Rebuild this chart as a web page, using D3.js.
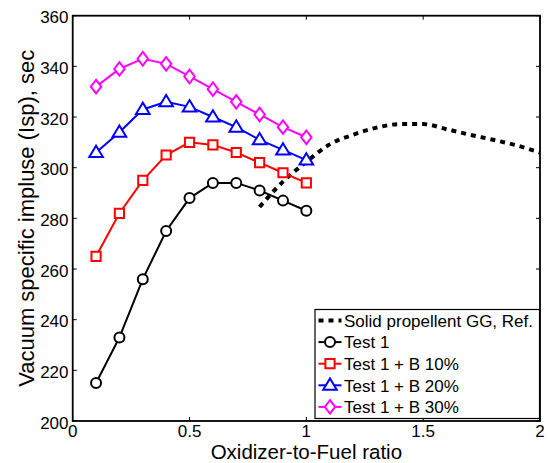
<!DOCTYPE html>
<html>
<head>
<meta charset="utf-8">
<script src="https://cdn.jsdelivr.net/npm/d3@7"></script>
<style>
  html, body { margin: 0; padding: 0; background: #fff; }
  svg { display: block; font-family: Arial, "Liberation Sans", sans-serif; }
</style>
</head>
<body>
<svg id="chart" width="548" height="463"></svg>
<script>
// Oxidizer-to-fuel ratio for the test series
const ofRatio = [0.1, 0.2, 0.3, 0.4, 0.5, 0.6, 0.7, 0.8, 0.9, 1.0];

// Vacuum specific impulse (sec) per test series
const test1    = [215, 233, 256, 275, 288, 294, 294, 291, 287, 283];
const testB10  = [265, 282, 295, 305, 310, 309, 306, 302, 298, 294];
const testB20  = [306, 314, 323, 326, 324, 320, 316, 311, 307, 303];
const testB30  = [332, 339, 343, 341, 336, 331, 326, 321, 316, 312];

// Solid propellant gas generator reference curve
const refRatio = [0.8, 0.9, 1.0, 1.1, 1.2, 1.3, 1.4, 1.5, 1.6, 1.7, 1.8, 1.9, 2.0];
const refIsp   = [284.5, 294.5, 302.3, 309.2, 313, 315.8, 317.2, 317.2, 315.2, 313, 311, 308.8, 306];

const xTicks = [0, 0.5, 1, 1.5, 2];
const yTicks = [200, 220, 240, 260, 280, 300, 320, 340, 360];

const legendLabels = ["Solid propellent GG, Ref.", "Test 1", "Test 1 + B 10%", "Test 1 + B 20%", "Test 1 + B 30%"];

const svg = d3.select("#chart");
const L = 72.7, R = 540, T = 15.7, B = 421;

const x = d3.scaleLinear().domain([0, 2]).range([L, R]);
const y = d3.scaleLinear().domain([200, 360]).range([B, T]);

// Frame ticks pointing inward on all four sides
const tickLen = 4;
const axisG = svg.append("g");
xTicks.forEach(t => {
  axisG.append("line").attr("x1", x(t)).attr("x2", x(t)).attr("y1", B).attr("y2", B - tickLen)
    .attr("stroke", "#000").attr("stroke-width", 1);
  axisG.append("line").attr("x1", x(t)).attr("x2", x(t)).attr("y1", T).attr("y2", T + tickLen)
    .attr("stroke", "#000").attr("stroke-width", 1);
});
yTicks.forEach(t => {
  axisG.append("line").attr("x1", L).attr("x2", L + tickLen).attr("y1", y(t)).attr("y2", y(t))
    .attr("stroke", "#000").attr("stroke-width", 1);
  axisG.append("line").attr("x1", R).attr("x2", R - tickLen).attr("y1", y(t)).attr("y2", y(t))
    .attr("stroke", "#000").attr("stroke-width", 1);
});

// Tick labels
svg.append("g").selectAll("text").data(xTicks).join("text")
  .attr("x", d => x(d)).attr("y", 436.5)
  .attr("text-anchor", "middle").attr("font-size", 17).attr("fill", "#000")
  .text(d => d3.format("~g")(d));
svg.append("g").selectAll("text").data(yTicks).join("text")
  .attr("x", 68.5).attr("y", d => y(d) + 7.5)
  .attr("text-anchor", "end").attr("font-size", 17).attr("fill", "#000")
  .text(d => d);

// Axis titles
svg.append("text")
  .attr("x", (L + R) / 2).attr("y", 458.6)
  .attr("text-anchor", "middle").attr("font-size", 20.5).attr("fill", "#000")
  .text("Oxidizer-to-Fuel ratio");
svg.append("text")
  .attr("transform", `translate(33.5, ${(T + B) / 2}) rotate(-90)`)
  .attr("text-anchor", "middle").attr("font-size", 22).attr("fill", "#000")
  .text("Vacuum specific impluse (Isp), sec");

const plot = svg.append("g");

// Reference curve (dotted)
const refLine = d3.line().x(d => x(d[0])).y(d => y(d[1])).curve(d3.curveMonotoneX);
plot.append("path")
  .datum(refRatio.map((r, i) => [r, refIsp[i]]))
  .attr("d", refLine)
  .attr("fill", "none").attr("stroke", "#000")
  .attr("stroke-width", 4).attr("stroke-dasharray", "5,5");

// Marker shapes
const markerPath = {
  circle:   d3.symbol().type(d3.symbolCircle).size(Math.PI * 25)(),
  square:   "M-4.6,-4.6H4.6V4.6H-4.6Z",
  triangle: "M0,-6.8L6.8,4.5H-6.8Z",
  diamond:  "M0,-6.8L5.2,0L0,6.8L-5.2,0Z"
};

const series = [
  { vals: test1,   color: "#000000", marker: "circle" },
  { vals: testB10, color: "#ff0000", marker: "square" },
  { vals: testB20, color: "#0000ff", marker: "triangle" },
  { vals: testB30, color: "#ff00ff", marker: "diamond" }
];

const line = d3.line().x(d => x(d[0])).y(d => y(d[1]));
series.forEach(s => {
  const pts = ofRatio.map((r, i) => [r, s.vals[i]]);
  plot.append("path").datum(pts).attr("d", line)
    .attr("fill", "none").attr("stroke", s.color).attr("stroke-width", 2);
  plot.append("g").selectAll("path").data(pts).join("path")
    .attr("transform", d => `translate(${x(d[0])},${y(d[1])})`)
    .attr("d", markerPath[s.marker])
    .attr("fill", "#fff").attr("stroke", s.color).attr("stroke-width", 2);
});

// Axes frame
svg.append("rect")
  .attr("x", L).attr("y", T).attr("width", R - L).attr("height", B - T)
  .attr("fill", "none").attr("stroke", "#000").attr("stroke-width", 1.8);

// Legend
const lg = svg.append("g");
const lgX = 315, lgY = 309.5, lgW = 224.5, lgH = 109;
lg.append("rect").attr("x", lgX).attr("y", lgY).attr("width", lgW).attr("height", lgH)
  .attr("fill", "#fff").attr("stroke", "#000").attr("stroke-width", 1.2);

const legendItems = [
  { color: "#000000", marker: null, dashed: true },
  ...series
];
legendItems.forEach((it, i) => {
  const cy = 320.5 + i * 21.6;
  const g = lg.append("g");
  g.append("line").attr("x1", 318.5).attr("x2", 341.5).attr("y1", cy).attr("y2", cy)
    .attr("stroke", it.color)
    .attr("stroke-width", it.dashed ? 4 : 2)
    .attr("stroke-dasharray", it.dashed ? "5,5" : null);
  if (it.marker) {
    g.append("path").attr("transform", `translate(330,${cy})`)
      .attr("d", markerPath[it.marker])
      .attr("fill", "#fff").attr("stroke", it.color).attr("stroke-width", 2);
  }
  g.append("text").attr("x", 344).attr("y", cy + 6.2)
    .attr("font-size", 17).attr("fill", "#000")
    .text(legendLabels[i]);
});
</script>
</body>
</html>
